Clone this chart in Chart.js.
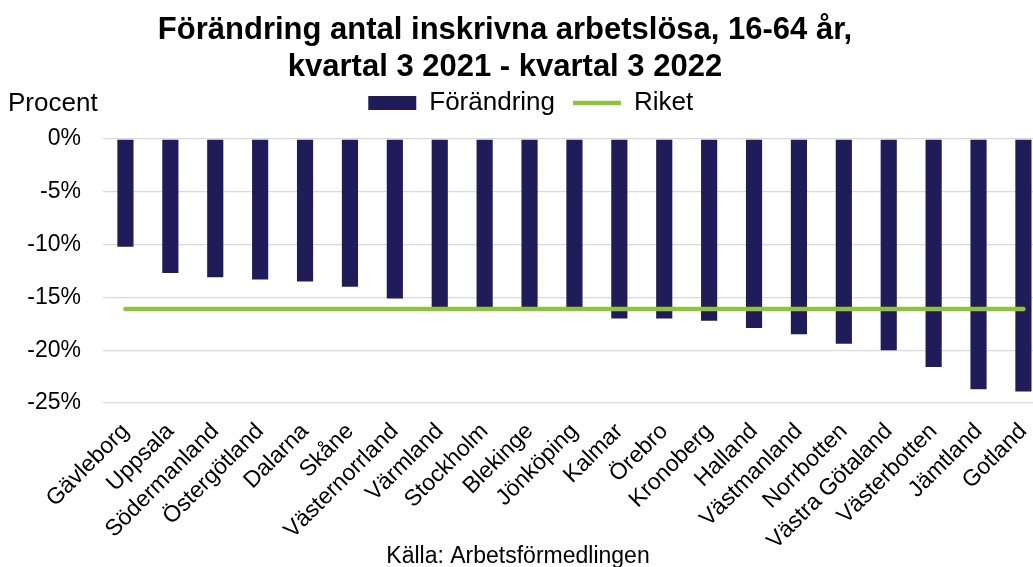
<!DOCTYPE html>
<html>
<head>
<meta charset="utf-8">
<script src="https://cdn.jsdelivr.net/npm/chart.js@4/dist/chart.umd.min.js"></script>
<style>
    html, body { margin: 0; padding: 0; background: #fff; overflow: hidden; }
</style>
</head>
<body>
<canvas id="myChart" width="1050" height="567"></canvas>
<script>
/* data */
const categories = ['Gävleborg', 'Uppsala', 'Södermanland', 'Östergötland', 'Dalarna', 'Skåne',
    'Västernorrland', 'Värmland', 'Stockholm', 'Blekinge', 'Jönköping', 'Kalmar', 'Örebro',
    'Kronoberg', 'Halland', 'Västmanland', 'Norrbotten', 'Västra Götaland', 'Västerbotten',
    'Jämtland', 'Gotland'];
const forandring = [-10.2, -12.7, -13.1, -13.3, -13.5, -14.0, -15.1, -15.9, -15.9, -15.9, -15.9,
    -17.0, -17.0, -17.2, -17.9, -18.5, -19.4, -20.0, -21.6, -23.7, -23.9];
const riket = [-16.1, -16.1, -16.1, -16.1, -16.1, -16.1, -16.1, -16.1, -16.1, -16.1, -16.1,
    -16.1, -16.1, -16.1, -16.1, -16.1, -16.1, -16.1, -16.1, -16.1, -16.1];
const yMin = -25;
const yMax = 0;
const yStep = 5;

const titleLines = ['Förändring antal inskrivna arbetslösa, 16-64 år,', 'kvartal 3 2021 - kvartal 3 2022'];
const unitLabel = 'Procent';
const sourceLabel = 'Källa: Arbetsförmedlingen';

const FONT = "Arial, 'Liberation Sans', sans-serif";

/* title, unit label and source are drawn straight on the canvas */
const textPlugin = {
    id: 'texts',
    afterDraw(chart) {
        const ctx = chart.ctx;
        ctx.save();
        ctx.fillStyle = '#000';
        ctx.textBaseline = 'alphabetic';

        ctx.font = 'bold 31px ' + FONT;
        ctx.textAlign = 'center';
        ctx.fillText(titleLines[0], 505, 39);
        ctx.fillText(titleLines[1], 505, 76);

        ctx.font = '26px ' + FONT;
        ctx.textAlign = 'left';
        ctx.fillText(unitLabel, 8, 111);

        ctx.font = '23px ' + FONT;
        ctx.textAlign = 'center';
        ctx.fillText(sourceLabel, 518, 563);
        ctx.restore();
    }
};

const ctx = document.getElementById('myChart').getContext('2d');
const chart = new Chart(ctx, {
    data: {
        labels: categories,
        datasets: [{
            type: 'bar',
            label: 'Förändring',
            data: forandring,
            backgroundColor: '#201c59',
            borderWidth: 0,
            barPercentage: 0.36,
            categoryPercentage: 1,
            pointStyle: 'rect',
            order: 1
        }, {
            type: 'line',
            label: 'Riket',
            data: riket,
            borderColor: '#92c13e',
            backgroundColor: '#92c13e',
            borderWidth: 4.5,
            borderCapStyle: 'round',
            pointRadius: 0,
            pointStyle: 'line',
            fill: false,
            order: 0
        }]
    },
    options: {
        responsive: false,
        devicePixelRatio: 1,
        animation: false,
        layout: {
            padding: {top: 72, left: 14, right: 2.5, bottom: 0}
        },
        plugins: {
            tooltip: {enabled: false},
            title: {display: false},
            /* empty subtitle only keeps a gap between legend and plot */
            subtitle: {
                display: true,
                text: '',
                weight: 500,
                font: {size: 1, lineHeight: 1},
                padding: {top: 12, bottom: 0}
            },
            legend: {
                display: true,
                position: 'top',
                labels: {
                    usePointStyle: true,
                    pointStyleWidth: 48,
                    boxHeight: 14,
                    padding: 18,
                    color: '#000',
                    font: {family: FONT, size: 26},
                    sort: (a, b) => a.datasetIndex - b.datasetIndex
                }
            }
        },
        scales: {
            x: {
                grid: {display: false},
                border: {display: false},
                ticks: {
                    color: '#000',
                    font: {family: FONT, size: 23},
                    minRotation: 45,
                    maxRotation: 45,
                    autoSkip: false,
                    padding: 7
                },
                afterFit: (scale) => { scale.height = 164; }
            },
            y: {
                min: yMin,
                max: yMax,
                grid: {color: '#d9d9d9', lineWidth: 1.3, drawTicks: false},
                border: {display: false},
                ticks: {
                    stepSize: yStep,
                    color: '#000',
                    font: {family: FONT, size: 23},
                    padding: 22,
                    callback: (v) => v + '%'
                },
                afterFit: (scale) => { scale.width = 89; }
            }
        }
    },
    plugins: [textPlugin]
});
</script>
</body>
</html>
